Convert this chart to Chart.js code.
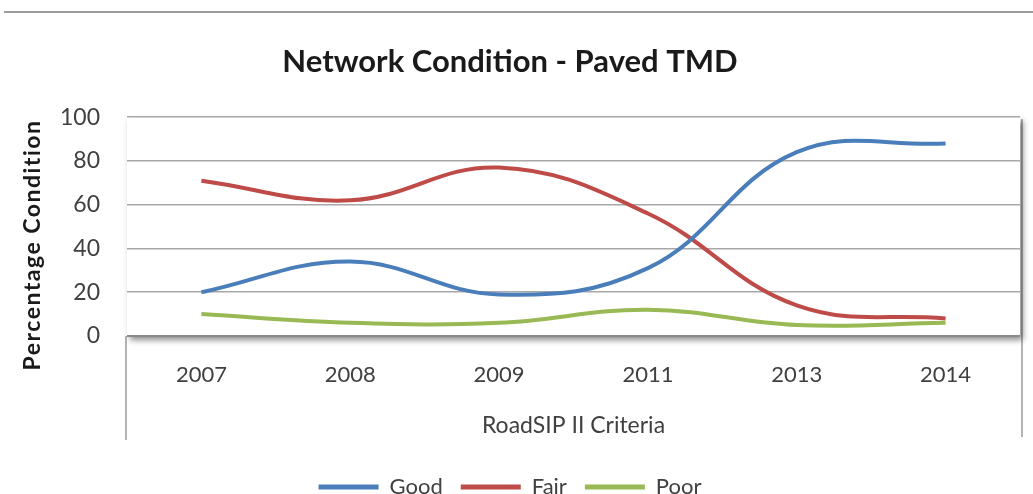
<!DOCTYPE html>
<html>
<head>
<meta charset="utf-8">
<script src="https://cdn.jsdelivr.net/npm/chart.js@4.4.1/dist/chart.umd.min.js"></script>
<style>
  html, body { margin: 0; padding: 0; background: #ffffff; }
  #wrap { width: 1033px; height: 494px; position: relative; }
</style>
</head>
<body>
<div id="wrap"><canvas id="c" width="1033" height="494"></canvas></div>
<script>
const categories = ["2007", "2008", "2009", "2011", "2013", "2014"];
const goodValues = [20, 34, 19, 31, 84, 88];
const fairValues = [71, 62, 77, 56, 14, 8];
const poorValues = [10, 6, 6, 12, 5, 6];
const yTicks = [0, 20, 40, 60, 80, 100];

const chartTitle = "Network Condition - Paved TMD";
const yTitle = "Percentage Condition";
const xTitle = "RoadSIP II Criteria";

const decorPlugin = {
  id: 'decor',
  beforeDraw(chart) {
    const ctx = chart.ctx;
    const a = chart.chartArea;
    ctx.save();
    ctx.strokeStyle = '#9c9c9c';
    ctx.lineWidth = 2;
    ctx.beginPath();
    ctx.moveTo(4, 12); ctx.lineTo(1033, 12);
    ctx.stroke();
    ctx.strokeStyle = '#b4b4b4';
    ctx.beginPath();
    ctx.moveTo(a.left - 1, a.bottom); ctx.lineTo(a.left - 1, 440);
    ctx.moveTo(a.right + 2, a.top + 2); ctx.lineTo(a.right + 2, 437);
    ctx.stroke();
    ctx.shadowColor = 'rgba(0,0,0,0.45)';
    ctx.shadowBlur = 6;
    ctx.shadowOffsetX = 3;
    ctx.shadowOffsetY = 4;
    ctx.fillStyle = '#ffffff';
    ctx.fillRect(a.left, a.top, a.right - a.left, a.bottom - a.top);
    ctx.restore();
  },
  afterDraw(chart) {
    const ctx = chart.ctx;
    const a = chart.chartArea;
    ctx.save();
    ctx.strokeStyle = '#8a8a8a';
    ctx.lineWidth = 2;
    ctx.beginPath();
    ctx.moveTo(a.left, a.bottom); ctx.lineTo(a.right, a.bottom);
    ctx.stroke();
    ctx.translate(33, 245);
    ctx.rotate(-Math.PI / 2);
    ctx.fillStyle = '#1a1a1a';
    ctx.font = 'bold 23px Lato';
    if ('letterSpacing' in ctx) ctx.letterSpacing = '1.5px';
    ctx.textAlign = 'center';
    ctx.textBaseline = 'middle';
    ctx.fillText(yTitle, 0, 0);
    ctx.restore();
  }
};

new Chart(document.getElementById('c'), {
  type: 'line',
  data: {
    labels: categories,
    datasets: [
      { label: 'Good', data: goodValues, borderColor: '#4a7ebb', backgroundColor: '#4a7ebb' },
      { label: 'Fair', data: fairValues, borderColor: '#be4b48', backgroundColor: '#be4b48' },
      { label: 'Poor', data: poorValues, borderColor: '#98b954', backgroundColor: '#98b954' }
    ]
  },
  options: {
    responsive: false,
    animation: false,
    devicePixelRatio: 1,
    layout: { padding: { left: 0, right: 13, top: 0, bottom: -14 } },
    elements: {
      line: { borderWidth: 4, tension: 0.4, borderCapStyle: 'butt' },
      point: { radius: 0, hoverRadius: 0, borderWidth: 5 }
    },
    plugins: {
      title: {
        display: true,
        text: chartTitle,
        color: '#1a1a1a',
        font: { family: 'Lato', size: 31, weight: 'bold', lineHeight: 1.2 },
        padding: { top: 43, bottom: 37 }
      },
      legend: {
        position: 'bottom',
        labels: {
          usePointStyle: true,
          pointStyle: 'line',
          pointStyleWidth: 60,
          color: '#404040',
          font: { family: 'Lato', size: 22 },
          padding: 18
        }
      },
      tooltip: { enabled: false }
    },
    scales: {
      x: {
        offset: true,
        grid: { display: false, drawTicks: false },
        border: { display: false },
        ticks: { color: '#404040', font: { family: 'Lato', size: 22 }, padding: 26 },
        title: {
          display: true, text: xTitle, color: '#404040',
          font: { family: 'Lato', size: 23 }, padding: { top: 0, bottom: 19 }
        },
        afterFit(scale) { scale.height = 122; }
      },
      y: {
        min: 0, max: 100,
        afterBuildTicks(scale) { scale.ticks = yTicks.map(v => ({ value: v })); },
        grid: { color: '#a8a8a8', lineWidth: 1.5, drawTicks: false },
        border: { display: false },
        ticks: { color: '#404040', font: { family: 'Lato', size: 23 }, padding: 27 },
        afterFit(scale) { scale.width = 127; }
      }
    }
  },
  plugins: [decorPlugin]
});
</script>
</body>
</html>
